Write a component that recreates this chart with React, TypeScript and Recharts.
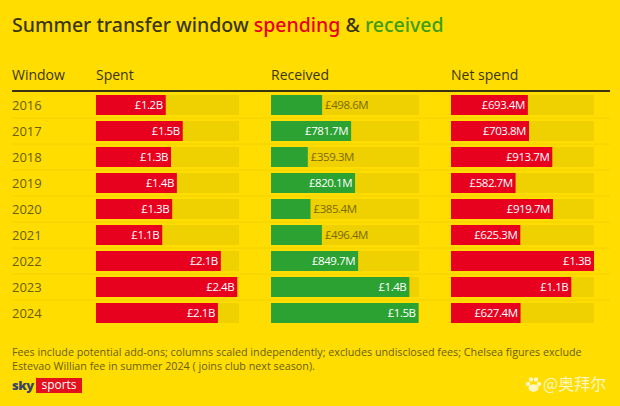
import { BarChart, Bar, XAxis, YAxis, LabelList } from 'recharts';

const years = ['2016', '2017', '2018', '2019', '2020', '2021', '2022', '2023', '2024'];
const spent = [1190, 1480, 1280, 1380, 1300, 1130, 2130, 2410, 2080];
const spentLabels = ['£1.2B', '£1.5B', '£1.3B', '£1.4B', '£1.3B', '£1.1B', '£2.1B', '£2.4B', '£2.1B'];
const received = [498.6, 781.7, 359.3, 820.1, 385.4, 496.4, 849.7, 1350, 1440];
const receivedLabels = ['£498.6M', '£781.7M', '£359.3M', '£820.1M', '£385.4M', '£496.4M', '£849.7M', '£1.4B', '£1.5B'];
const netSpend = [693.4, 703.8, 913.7, 582.7, 919.7, 625.3, 1290, 1085, 627.4];
const netLabels = ['£693.4M', '£703.8M', '£913.7M', '£582.7M', '£919.7M', '£625.3M', '£1.3B', '£1.1B', '£627.4M'];

const YELLOW = '#FFDD00';
const TRACK = '#EFD000';
const RED = '#E8001F';
const GREEN = '#2CA232';
const DARK = '#3A3510';
const FONT = '"Open Sans", "Noto Sans", sans-serif';
const CHART_HEIGHT = 326;
const TOP = 92;

function rows(values: number[], labels: string[]) {
  return years.map((year, i) => ({ year, value: values[i], label: labels[i] }));
}

function BarLabel(props: any) {
  const { x, y, width, height, value } = props;
  const inside = width > 60;
  return (
    <text
      x={inside ? x + width - 3 : x + width + 3}
      y={y + height / 2 + 4}
      textAnchor={inside ? 'end' : 'start'}
      fill={inside ? '#FFFFFF' : '#7A6A00'}
      fontSize={11.5}
      letterSpacing={-0.45}
      fontFamily={FONT}
    >
      {value}
    </text>
  );
}

function YearTick(props: any) {
  const { y, payload, index } = props;
  return (
    <g>
      <text x={12} y={y + 5} fontSize={13} fill="#6A5E10" fontFamily={FONT}>
        {payload.value}
      </text>
      {index < years.length - 1 && (
        <line x1={12} x2={610} y1={y + 13} y2={y + 13} stroke="#F2D200" strokeWidth={1} />
      )}
    </g>
  );
}

function Column(p: {
  left: number;
  width: number;
  rightPad: number;
  values: number[];
  labels: string[];
  max: number;
  color: string;
  showYears?: boolean;
}) {
  const axisWidth = p.showYears ? 96 : 0;
  return (
    <div style={{ position: 'absolute', left: p.left - axisWidth, top: 0 }}>
      <BarChart
        width={p.width + axisWidth + p.rightPad}
        height={CHART_HEIGHT}
        layout="vertical"
        data={rows(p.values, p.labels)}
        margin={{ top: TOP, right: p.rightPad, bottom: 0, left: 0 }}
        barCategoryGap={3}
      >
        <XAxis type="number" domain={[0, p.max]} hide />
        <YAxis
          type="category"
          dataKey="year"
          width={axisWidth}
          hide={!p.showYears}
          axisLine={false}
          tickLine={false}
          tick={<YearTick />}
          interval={0}
        />
        <Bar
          dataKey="value"
          fill={p.color}
          barSize={20}
          background={{ fill: TRACK }}
          isAnimationActive={false}
        >
          <LabelList dataKey="label" content={<BarLabel />} />
        </Bar>
      </BarChart>
    </div>
  );
}

function Header(p: { x: number; text: string }) {
  return (
    <div style={{ position: 'absolute', left: p.x, top: 66, fontSize: 14, color: DARK, lineHeight: '18px' }}>
      {p.text}
    </div>
  );
}

export default function App() {
  return (
    <div
      style={{
        position: 'absolute',
        left: 0,
        top: 0,
        width: 620,
        height: 406,
        background: YELLOW,
        overflow: 'hidden',
        fontFamily: FONT,
      }}
    >
      <div style={{ position: 'absolute', left: 12, top: 11, fontSize: 19.5, lineHeight: '28px', color: DARK, fontWeight: 500, whiteSpace: 'nowrap', fontFamily: '"Noto Sans", sans-serif' }}>
        Summer transfer window <span style={{ color: RED }}>spending</span> &amp;{' '}
        <span style={{ color: '#3C9E14' }}>received</span>
      </div>

      <Header x={12} text="Window" />
      <Header x={96} text="Spent" />
      <Header x={271} text="Received" />
      <Header x={451} text="Net spend" />
      <div style={{ position: 'absolute', left: 12, top: 90, width: 598, height: 2, background: DARK }} />

      <Column left={96} width={143} rightPad={381} values={spent} labels={spentLabels} max={2440} color={RED} showYears />
      <Column left={271} width={148} rightPad={0} values={received} labels={receivedLabels} max={1444} color={GREEN} />
      <Column left={451} width={143} rightPad={0} values={netSpend} labels={netLabels} max={1290} color={RED} />

      <div style={{ position: 'absolute', left: 12, top: 345, width: 600, fontSize: 10.75, lineHeight: '14px', color: '#6A5E10', whiteSpace: 'nowrap' }}>
        Fees include potential add-ons; columns scaled independently; excludes undisclosed fees; Chelsea figures exclude
        <br />
        Estevao Willian fee in summer 2024 ( joins club next season).
      </div>

      <div style={{ position: 'absolute', left: 12, top: 376, fontSize: 13, fontWeight: 800, lineHeight: '18px', color: '#3A4468', letterSpacing: -0.5 }}>
        sky
      </div>
      <div style={{ position: 'absolute', left: 36, top: 378, width: 46, height: 15, background: '#E3101E', color: '#fff', fontSize: 12, lineHeight: '14px', textAlign: 'center' }}>
        sports
      </div>

      <svg style={{ position: 'absolute', left: 525, top: 376 }} width={17} height={17}>
        <g fill="#FFF6C0">
          <circle cx={3} cy={8} r={2.2} />
          <circle cx={6} cy={3.5} r={2.2} />
          <circle cx={11} cy={3.5} r={2.2} />
          <circle cx={14} cy={8} r={2.2} />
          <ellipse cx={8.5} cy={12} rx={5} ry={3.8} />
        </g>
      </svg>
      <div style={{ position: 'absolute', left: 543, top: 373, fontSize: 16, lineHeight: '20px', color: '#FFF6C0', fontFamily: '"Noto Sans CJK SC", sans-serif' }}>
        @奥拜尔
      </div>
    </div>
  );
}
